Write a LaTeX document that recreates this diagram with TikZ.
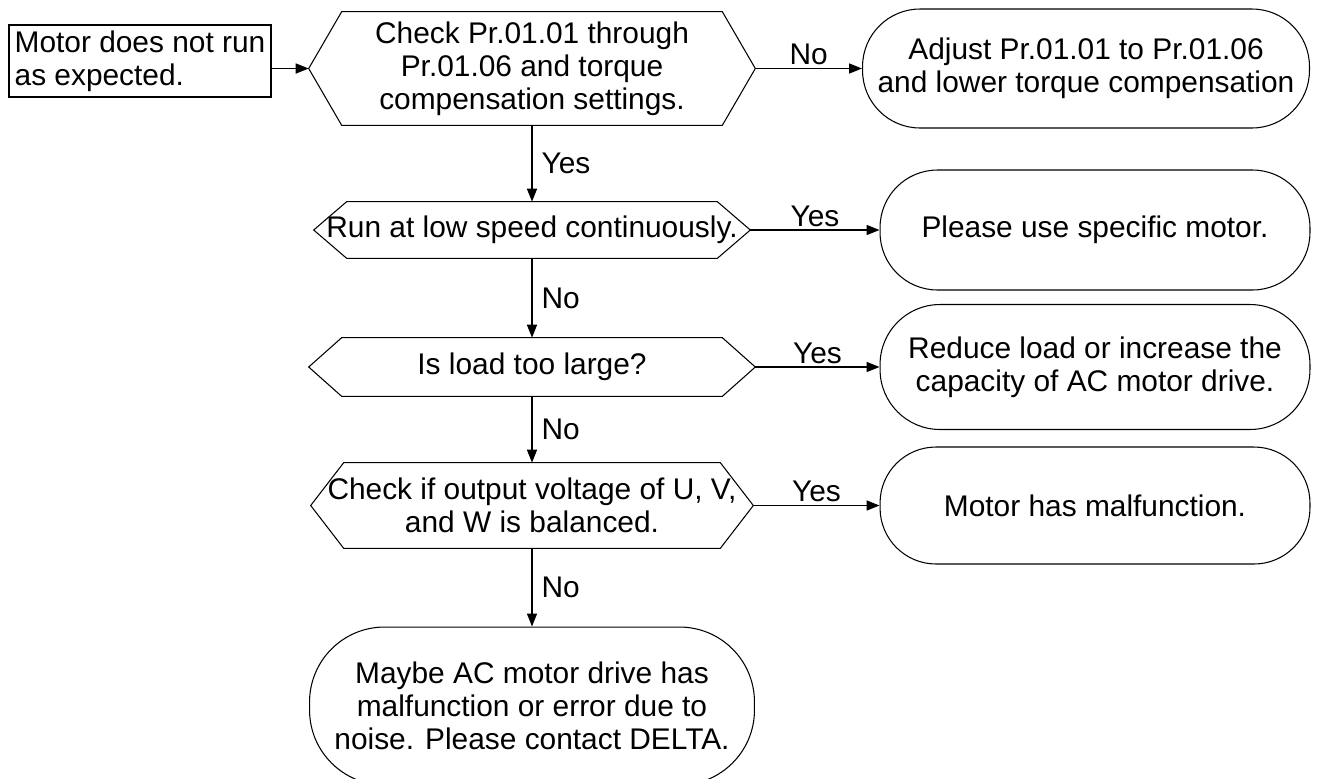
\documentclass[tikz,border=0pt]{standalone}
\usepackage{fontspec}
\setmainfont{Liberation Sans}
\usetikzlibrary{arrows.meta, positioning, calc}

\begin{document}
\begin{tikzpicture}[
    x=0.02cm, y=-0.02cm,
    every node/.style={font=\fontsize{17}{18.8}\selectfont},
    inbox/.style={draw, line width=0.6pt, align=left, inner sep=0pt,
                minimum width=5.24cm, minimum height=1.44cm},
    dec/.style={align=center, inner sep=0pt},
    term/.style={draw, line width=0.6pt, align=center, inner sep=0pt,
                minimum width=8.6cm},
    flow/.style={line width=0.9pt, -{Triangle[length=2.6mm, width=2mm]}},
    vlabel/.style={midway, right, inner sep=5pt},
    hlabel/.style={midway, above, inner sep=1.5pt}
]
\useasboundingbox (0,0) rectangle (1327,778);
% Start
\node[inbox] (start) at (140, 61) {Motor does not run\\as expected.};
% Checks
\node[dec, minimum width=8.92cm, minimum height=2.26cm] (q1) at (532, 68.5)
    {Check Pr.01.01 through\\Pr.01.06 and torque\\compensation settings.};
\node[dec, minimum width=8.72cm, minimum height=1.12cm] (q2) at (532, 230)
    {Run at low speed continuously.};
\node[dec, minimum width=8.92cm, minimum height=1.16cm] (q3) at (532, 367)
    {Is load too large?};
\node[dec, minimum width=8.84cm, minimum height=1.7cm] (q4) at (532, 505.5)
    {Check if output voltage of U, V,\\and W is balanced.};
\foreach \n in {q1, q2, q3, q4}
    \draw[line width=0.6pt] (\n.west) -- ($(\n.north west)+(33,0)$)
        -- ($(\n.north east)+(-33,0)$) -- (\n.east)
        -- ($(\n.south east)+(-33,0)$) -- ($(\n.south west)+(33,0)$) -- cycle;
% Results
\node[term, minimum width=8.94cm, minimum height=2.38cm, rounded corners=1.15cm]
    (r1) at (1086, 68.5) {Adjust Pr.01.01 to Pr.01.06\\and lower torque compensation};
\node[term, minimum height=2.4cm, rounded corners=1.15cm] (r2) at (1095, 230)
    {Please use specific motor.};
\node[term, minimum height=2.5cm, rounded corners=1.2cm] (r3) at (1095, 367)
    {Reduce load or increase the\\capacity of AC motor drive.};
\node[term, minimum height=2.34cm, rounded corners=1.12cm] (r4) at (1095, 505.5)
    {Motor has malfunction.};
\node[term, minimum width=8.9cm, minimum height=3.16cm, rounded corners=1.5cm]
    (r5) at (532, 706) {Maybe AC motor drive has\\malfunction or error due to\\noise. Please contact DELTA.};
% Edges
\draw[flow] (start.east |- q1.west) -- (q1.west);
\draw[flow] (q1.east) -- (r1.west) node[hlabel]{No};
\draw[flow] (q1.south) -- (q2.north) node[vlabel]{Yes};
\draw[flow] (q2.east) -- (r2.west) node[hlabel]{Yes};
\draw[flow] (q2.south) -- (q3.north) node[vlabel]{No};
\draw[flow] (q3.east) -- (r3.west) node[hlabel]{Yes};
\draw[flow] (q3.south) -- (q4.north) node[vlabel]{No};
\draw[flow] (q4.east) -- (r4.west) node[hlabel]{Yes};
\draw[flow] (q4.south) -- (r5.north) node[vlabel]{No};
\end{tikzpicture}
\end{document}
